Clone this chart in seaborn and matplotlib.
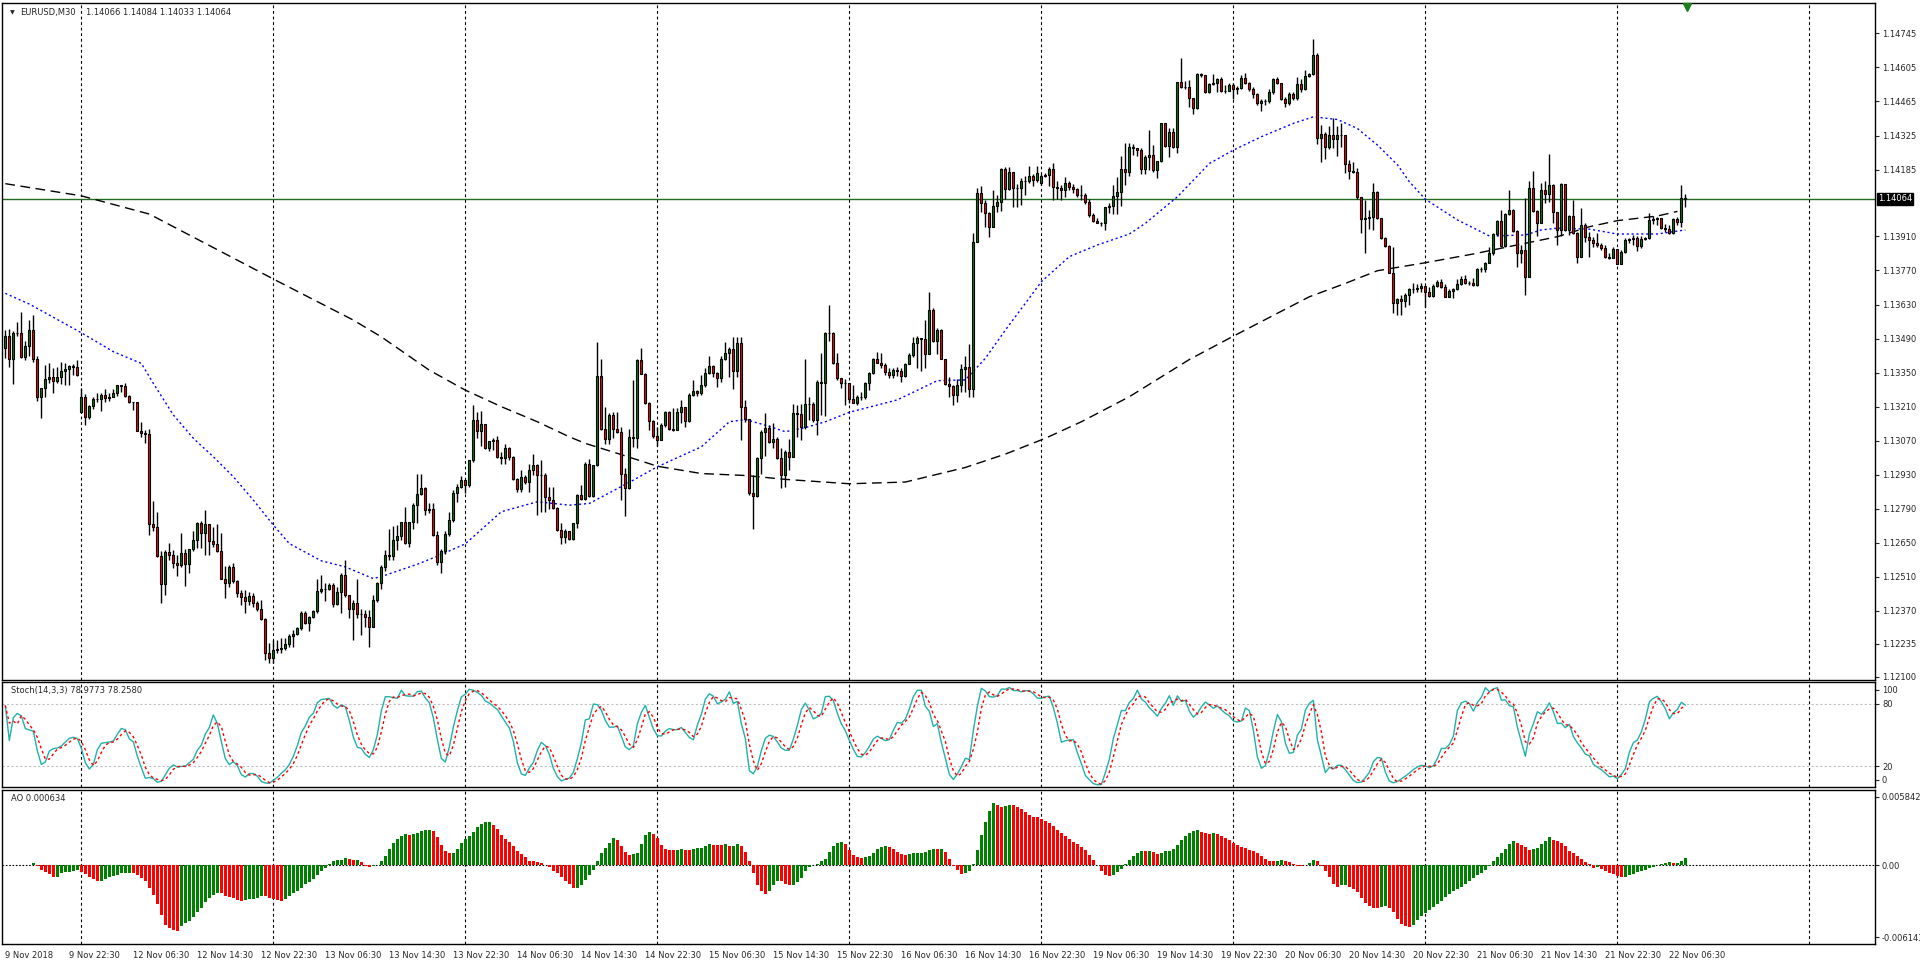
import numpy as np
import pandas as pd
import seaborn as sns
import matplotlib.pyplot as plt
from matplotlib import transforms

# EURUSD M30 bars, 9 Nov 2018 14:30 -> 22 Nov 2018 08:30
# prices kept as pips above 1.1000 to keep the lists short
close_pips = [
    350.0, 340.5, 351.5, 351.5, 341.5, 346.0, 352.5, 340.5, 324.8, 328.5,
    332.2, 333.2, 331.5, 333.0, 335.8, 336.5, 337.7, 337.2, 334.2, 325.1,
    316.6, 321.3, 324.0, 324.3, 325.8, 324.5, 324.8, 326.5, 329.8, 329.3,
    325.5, 322.8, 322.8, 311.1, 310.0, 309.8, 272.7, 271.6, 259.6, 248.1,
    261.2, 260.1, 256.8, 255.7, 260.7, 256.3, 262.3, 266.2, 273.0, 269.2,
    272.7, 265.9, 264.5, 261.8, 250.3, 248.6, 254.9, 249.4, 244.5, 242.9,
    241.2, 243.0, 240.1, 237.9, 233.5, 219.6, 217.5, 220.9, 221.5, 221.6,
    223.3, 226.6, 227.4, 229.8, 236.2, 232.1, 234.6, 237.0, 245.3, 245.9,
    246.2, 247.6, 239.8, 244.8, 251.7, 243.5, 238.0, 240.4, 235.7, 235.9,
    234.6, 230.5, 241.4, 248.3, 255.1, 259.9, 259.5, 266.1, 267.8, 273.7,
    265.0, 273.7, 280.5, 285.0, 287.4, 278.7, 279.1, 268.2, 257.2, 261.7,
    268.6, 274.3, 285.3, 288.0, 290.8, 288.7, 299.0, 315.7, 311.1, 313.8,
    304.2, 307.0, 307.2, 300.1, 299.7, 303.8, 300.4, 291.1, 287.0, 291.9,
    290.1, 294.9, 297.0, 292.9, 293.1, 283.9, 282.6, 279.5, 270.2, 267.2,
    270.0, 266.4, 273.0, 284.6, 283.2, 297.6, 284.2, 297.0, 333.6, 312.0,
    307.9, 317.5, 312.0, 310.7, 293.5, 287.4, 308.6, 308.0, 340.1, 334.4,
    322.6, 315.2, 308.9, 307.2, 313.4, 318.8, 312.0, 311.4, 318.8, 321.0,
    315.2, 325.7, 327.5, 326.7, 329.9, 334.9, 337.7, 334.7, 332.6, 340.8,
    342.9, 344.9, 335.8, 347.0, 320.7, 316.1, 285.3, 284.2, 299.7, 310.7,
    312.4, 306.6, 307.9, 299.7, 292.8, 302.4, 300.4, 318.2, 318.0, 312.7,
    322.3, 322.3, 315.5, 331.2, 330.7, 351.1, 351.1, 339.1, 332.7, 330.9,
    330.6, 324.0, 322.7, 325.1, 324.8, 330.9, 334.7, 340.5, 339.1, 338.1,
    335.4, 334.0, 336.1, 335.8, 333.6, 338.6, 342.3, 347.1, 349.1, 348.7,
    342.7, 360.8, 348.2, 352.6, 340.5, 330.3, 329.5, 325.8, 329.9, 336.4,
    337.2, 328.1, 388.9, 408.8, 404.9, 400.8, 394.8, 403.5, 405.0, 418.6,
    410.4, 417.3, 410.8, 410.8, 414.0, 413.6, 415.9, 414.3, 417.0, 415.9,
    416.3, 418.6, 411.2, 410.8, 409.9, 412.9, 411.2, 410.4, 408.1, 408.1,
    405.3, 399.8, 397.5, 396.7, 396.4, 403.0, 403.5, 407.7, 409.4, 418.6,
    417.7, 427.6, 427.2, 426.5, 418.6, 423.8, 424.5, 418.3, 422.1, 437.5,
    428.2, 434.1, 427.6, 454.6, 452.3, 452.6, 447.8, 443.7, 457.8, 457.4,
    450.5, 453.7, 454.2, 455.6, 450.9, 451.0, 453.3, 451.5, 452.2, 456.0,
    454.0, 451.5, 449.6, 445.7, 446.8, 446.8, 450.5, 455.6, 454.2, 447.4,
    446.0, 449.6, 447.8, 453.7, 451.5, 457.0, 457.8, 465.6, 431.3, 433.1,
    427.6, 432.7, 430.9, 432.7, 432.7, 420.8, 418.0, 417.6, 407.1, 398.0,
    398.4, 398.8, 409.4, 398.4, 390.2, 387.0, 376.1, 363.5, 365.1, 364.6,
    366.9, 369.3, 369.3, 369.7, 370.6, 368.3, 366.5, 370.6, 372.4, 370.4,
    366.2, 368.7, 369.3, 371.5, 373.4, 372.0, 372.0, 371.0, 377.5, 377.5,
    380.2, 384.3, 392.0, 397.5, 387.1, 400.2, 401.9, 393.4, 384.1, 385.5,
    374.5, 410.8, 401.6, 396.7, 410.1, 408.5, 412.2, 401.2, 393.7, 412.6,
    393.7, 399.4, 392.3, 382.7, 395.7, 390.9, 389.6, 388.5, 387.5, 386.1,
    382.4, 382.0, 385.7, 379.7, 384.8, 389.6, 389.9, 390.3, 387.1, 389.8,
    390.3, 397.8, 398.1, 398.5, 394.4, 393.9, 392.3, 398.1, 397.1, 406.7, 406.4,
]
high_pips = [
    352.5, 353.0, 352.0, 356.0, 360.0, 348.0, 356.5, 358.5, 341.8, 328.5,
    338.1, 338.8, 336.8, 337.5, 339.5, 338.8, 338.2, 338.5, 340.2, 328.5,
    326.1, 321.6, 325.1, 326.5, 326.5, 328.1, 326.8, 328.1, 330.1, 330.0,
    330.6, 325.8, 323.1, 323.1, 314.8, 311.4, 311.7, 282.2, 277.8, 261.8,
    262.0, 265.1, 262.0, 259.9, 268.9, 262.3, 262.3, 270.0, 273.7, 274.1,
    278.5, 272.7, 271.6, 272.7, 268.9, 255.5, 255.9, 256.9, 249.7, 245.6,
    245.6, 244.9, 244.2, 241.2, 241.5, 233.9, 223.7, 225.0, 225.0, 225.7,
    225.7, 227.4, 229.1, 230.2, 237.0, 236.8, 234.8, 237.3, 250.3, 251.7,
    248.5, 248.5, 248.3, 246.9, 252.4, 257.9, 243.5, 241.5, 250.3, 238.0,
    237.3, 237.3, 243.5, 249.0, 255.8, 262.0, 270.9, 271.9, 272.3, 273.7,
    279.8, 273.7, 281.2, 293.5, 293.5, 287.8, 281.2, 281.5, 270.0, 262.3,
    270.0, 277.8, 286.7, 289.1, 292.4, 289.7, 299.0, 321.6, 318.9, 319.3,
    313.8, 307.0, 308.3, 308.9, 302.4, 305.6, 304.5, 300.7, 291.5, 294.9,
    292.9, 297.4, 301.5, 297.4, 299.0, 293.8, 288.0, 287.8, 279.8, 273.0,
    270.5, 270.0, 273.2, 285.0, 288.7, 298.3, 299.3, 297.0, 347.7, 340.8,
    321.0, 318.2, 318.9, 318.9, 312.7, 295.6, 312.0, 331.9, 340.8, 345.0,
    334.9, 323.0, 315.5, 312.7, 314.4, 319.3, 319.3, 320.3, 320.3, 323.7,
    321.0, 326.7, 331.9, 328.0, 334.0, 336.7, 341.8, 338.1, 335.3, 341.8,
    347.7, 345.4, 349.7, 349.7, 349.7, 323.7, 316.1, 292.8, 300.4, 311.4,
    318.2, 313.4, 314.1, 308.6, 303.8, 303.1, 307.9, 322.3, 321.6, 322.3,
    340.8, 325.0, 323.0, 331.9, 342.9, 351.8, 362.8, 351.8, 342.9, 332.6,
    332.2, 330.6, 329.9, 325.8, 327.2, 331.3, 335.4, 340.9, 343.6, 343.2,
    338.8, 336.8, 336.8, 337.5, 336.8, 339.1, 343.2, 349.8, 350.1, 349.1,
    356.7, 368.3, 361.5, 353.2, 352.8, 340.5, 333.4, 329.9, 332.2, 338.6,
    341.9, 346.8, 392.3, 410.8, 411.8, 406.0, 401.2, 410.1, 408.1, 419.0,
    419.7, 419.7, 417.7, 412.6, 414.9, 415.9, 420.0, 416.7, 420.0, 416.7,
    417.0, 419.4, 421.1, 413.6, 412.2, 415.6, 413.6, 412.6, 410.8, 412.2,
    408.8, 406.3, 400.8, 398.5, 397.0, 403.3, 404.9, 412.2, 415.6, 424.1,
    429.3, 429.5, 429.0, 427.2, 427.2, 424.5, 434.7, 428.6, 422.1, 437.8,
    437.5, 435.4, 435.4, 454.6, 464.2, 455.0, 455.3, 447.8, 458.1, 458.1,
    457.4, 454.0, 457.8, 456.0, 456.7, 453.3, 454.0, 454.2, 453.0, 457.4,
    458.1, 454.6, 452.6, 449.8, 447.4, 447.4, 451.5, 456.0, 456.4, 454.2,
    448.5, 450.5, 450.5, 456.7, 455.6, 459.4, 458.1, 472.0, 466.3, 436.8,
    434.1, 436.4, 439.6, 436.4, 437.5, 432.0, 422.4, 421.7, 419.0, 407.4,
    406.0, 402.0, 412.8, 409.8, 398.4, 390.9, 387.5, 386.8, 365.6, 367.0,
    367.6, 369.7, 371.7, 371.5, 371.7, 369.7, 370.4, 371.5, 373.1, 373.4,
    371.5, 369.3, 369.7, 373.4, 374.7, 375.2, 372.8, 373.8, 377.9, 378.6,
    380.6, 386.8, 392.6, 397.8, 401.9, 400.5, 410.1, 402.2, 393.7, 387.5,
    406.7, 414.0, 418.1, 401.9, 412.9, 414.0, 424.9, 412.6, 401.2, 412.9,
    412.2, 399.8, 406.0, 393.0, 402.6, 396.4, 393.0, 390.6, 392.6, 388.2,
    387.5, 384.3, 386.5, 385.5, 385.5, 390.2, 390.2, 391.6, 391.2, 391.2,
    390.9, 400.8, 399.4, 398.9, 398.5, 396.1, 395.7, 398.5, 398.9, 412.2, 408.4,
]
low_pips = [
    340.9, 337.5, 330.5, 350.0, 341.0, 340.0, 342.0, 339.5, 323.5, 316.2,
    325.1, 330.6, 326.8, 330.6, 330.3, 330.0, 330.0, 334.0, 333.8, 318.3,
    313.5, 316.0, 319.9, 323.0, 319.4, 323.0, 323.5, 324.8, 325.4, 327.2,
    325.1, 322.4, 319.6, 310.9, 308.7, 305.9, 268.2, 270.0, 259.0, 240.4,
    243.5, 257.9, 254.5, 251.4, 254.9, 247.2, 252.7, 261.8, 262.7, 262.7,
    260.0, 260.0, 263.4, 261.4, 250.0, 242.2, 246.7, 248.3, 242.9, 239.4,
    236.0, 239.4, 238.7, 237.1, 233.3, 216.8, 215.4, 215.4, 219.5, 219.5,
    221.1, 222.0, 222.0, 227.0, 229.1, 231.8, 228.8, 233.9, 236.2, 244.2,
    241.1, 245.6, 238.7, 239.4, 236.2, 242.8, 233.9, 225.2, 233.9, 227.0,
    230.2, 222.0, 230.5, 240.7, 246.2, 253.5, 257.9, 257.9, 262.0, 266.1,
    264.7, 263.4, 270.9, 273.0, 284.6, 276.4, 277.1, 267.8, 255.8, 252.4,
    260.6, 267.8, 273.7, 281.9, 287.4, 285.3, 288.0, 298.3, 308.3, 304.8,
    303.4, 302.9, 303.1, 299.7, 297.6, 297.6, 299.0, 290.8, 286.0, 286.0,
    289.4, 286.0, 292.9, 276.4, 277.8, 277.8, 279.1, 279.1, 270.0, 264.7,
    265.0, 266.1, 266.1, 271.3, 282.8, 282.8, 283.9, 283.9, 296.6, 311.6,
    305.6, 305.6, 308.3, 310.3, 282.8, 276.0, 287.0, 304.5, 304.2, 334.4,
    322.3, 311.4, 308.3, 304.8, 308.3, 312.7, 311.6, 311.1, 311.6, 314.1,
    312.7, 314.8, 325.4, 325.5, 325.7, 329.2, 334.4, 333.3, 329.2, 331.2,
    340.1, 333.3, 328.1, 333.3, 307.2, 314.8, 284.6, 270.5, 283.9, 293.5,
    300.7, 306.1, 303.8, 299.3, 287.4, 288.0, 294.9, 300.1, 308.6, 307.2,
    312.0, 315.5, 314.8, 309.3, 317.5, 317.2, 348.0, 338.4, 332.0, 328.6,
    321.7, 322.4, 322.4, 321.7, 323.8, 324.0, 327.9, 334.5, 339.1, 336.8,
    334.0, 332.7, 332.7, 333.6, 331.3, 333.4, 338.6, 341.3, 336.8, 335.8,
    336.8, 342.7, 347.8, 342.7, 340.5, 329.9, 325.1, 321.7, 323.1, 327.2,
    327.2, 324.9, 324.9, 388.9, 401.2, 395.0, 390.9, 394.8, 401.2, 401.6,
    406.3, 410.1, 403.3, 403.3, 404.0, 408.1, 412.9, 411.8, 413.2, 412.0,
    415.6, 411.8, 406.0, 406.6, 406.0, 407.4, 409.9, 409.0, 407.4, 406.0,
    404.4, 399.2, 397.1, 396.4, 395.5, 393.7, 400.8, 400.3, 400.3, 403.5,
    412.1, 416.0, 424.5, 424.0, 416.6, 416.6, 418.3, 417.6, 414.9, 421.7,
    427.9, 423.5, 427.2, 425.2, 451.9, 451.5, 444.4, 441.3, 443.3, 456.7,
    450.1, 450.1, 453.3, 450.5, 450.5, 449.8, 450.9, 447.4, 449.5, 451.5,
    453.7, 450.9, 447.8, 445.0, 442.7, 445.0, 446.0, 449.6, 453.7, 447.1,
    444.1, 445.0, 447.1, 447.1, 450.5, 451.2, 456.7, 457.4, 429.0, 421.7,
    422.7, 426.8, 427.2, 424.1, 427.6, 417.2, 414.5, 416.9, 406.6, 392.5,
    384.0, 394.0, 393.6, 398.0, 389.8, 386.8, 375.8, 359.5, 358.7, 358.7,
    362.1, 362.8, 367.9, 368.3, 368.3, 362.1, 366.2, 366.2, 370.4, 369.7,
    366.0, 366.0, 365.6, 369.0, 371.0, 371.5, 371.0, 370.6, 370.6, 376.5,
    376.5, 380.0, 383.4, 391.2, 386.8, 386.8, 400.0, 393.0, 378.6, 380.0,
    367.0, 374.2, 401.2, 391.2, 396.4, 404.9, 405.3, 396.4, 387.5, 391.2,
    393.4, 391.6, 392.0, 380.0, 382.4, 388.9, 382.7, 386.5, 386.8, 385.5,
    382.0, 381.6, 382.0, 379.7, 379.7, 384.1, 388.5, 387.5, 385.2, 386.1,
    389.6, 389.8, 396.2, 395.7, 393.9, 393.0, 392.0, 392.0, 395.7, 395.0, 403.3,
]
first_open_pips = 345.0
gap_open_pips = {19: 319.0, 259: 412.9}  # monday opens after weekend gaps

# moving averages (bar index, pips)
ma_fast_bars = [0, 6, 19, 27, 34, 37, 42, 47, 52, 57, 62, 67, 71, 79, 85, 92, 95, 103,
                108, 115, 124, 133, 141, 146, 157, 163, 174, 181, 185, 190, 195, 200,
                205, 211, 223, 233, 240, 245, 250, 255, 259, 266, 273, 281, 285, 293,
                301, 307, 314, 322, 327, 333, 338, 343, 348, 351, 355, 363, 371, 380,
                384, 388, 396, 403, 413, 420]
ma_fast_pips = [367.6, 363.2, 351.4, 343.6, 338.8, 330.6, 317.6, 308.0, 300.4, 292.2,
                282.6, 272.3, 264.7, 257.6, 255.1, 250.3, 251.7, 256.2, 259.5, 264.6,
                277.8, 281.9, 280.5, 281.2, 290.8, 296.3, 304.5, 314.8, 315.7, 313.4,
                310.7, 312.4, 314.8, 318.7, 323.8, 331.7, 332.0, 340.9, 352.5, 363.5,
                372.4, 382.7, 387.5, 392.0, 396.4, 407.3, 421.0, 426.5, 432.0, 437.5,
                440.2, 439.1, 435.4, 428.6, 420.5, 413.5, 406.3, 397.8, 391.2, 391.6,
                393.7, 394.4, 394.0, 392.0, 392.0, 393.7]
ma_slow_bars = [0, 19, 36, 67, 87, 94, 106, 115, 124, 133, 141, 145, 153, 163, 174, 185,
                195, 211, 225, 240, 250, 260, 269, 281, 296, 307, 318, 326, 335, 343,
                355, 367, 380, 388, 396, 403, 413, 418]
ma_slow_pips = [412.7, 407.7, 400.2, 373.5, 356.6, 349.7, 336.0, 327.8, 321.0, 314.8,
                308.6, 305.9, 301.8, 296.5, 293.5, 292.7, 291.1, 289.3, 290.0, 296.0,
                301.5, 308.0, 314.8, 325.1, 340.4, 350.0, 359.4, 366.2, 371.7, 376.9,
                380.2, 383.8, 388.2, 390.9, 395.0, 397.5, 399.4, 401.3]

time_labels = ['9 Nov 2018', '9 Nov 22:30', '12 Nov 06:30', '12 Nov 14:30', '12 Nov 22:30',
               '13 Nov 06:30', '13 Nov 14:30', '13 Nov 22:30', '14 Nov 06:30', '14 Nov 14:30',
               '14 Nov 22:30', '15 Nov 06:30', '15 Nov 14:30', '15 Nov 22:30', '16 Nov 06:30',
               '16 Nov 14:30', '16 Nov 22:30', '19 Nov 06:30', '19 Nov 14:30', '19 Nov 22:30',
               '20 Nov 06:30', '20 Nov 14:30', '20 Nov 22:30', '21 Nov 06:30', '21 Nov 14:30',
               '21 Nov 22:30', '22 Nov 06:30']
price_ticks = [1.14745, 1.14605, 1.14465, 1.14325, 1.14185, 1.13910, 1.13770, 1.13630,
               1.13490, 1.13350, 1.13210, 1.13070, 1.12930, 1.12790, 1.12650, 1.12510,
               1.12370, 1.12235, 1.12100]
bid_price = 1.14064

sns.set_style("white")
plt.rcParams['font.family'] = ['DejaVu Sans']
FS = 6

# build OHLC frame
df = pd.DataFrame({'close': close_pips, 'high': high_pips, 'low': low_pips})
df['open'] = df['close'].shift(1)
df.loc[0, 'open'] = first_open_pips
for k, v in gap_open_pips.items():
    df.loc[k, 'open'] = v
for c in ['open', 'high', 'low', 'close']:
    df[c] = 1.1 + df[c] / 1e4
df['high'] = df[['high', 'open', 'close']].max(axis=1)
df['low'] = df[['low', 'open', 'close']].min(axis=1)
df['bar'] = np.arange(len(df))

# indicators (Awesome Oscillator, Stochastic 14,3,3)
median = (df['high'] + df['low']) / 2
df['ao'] = median.rolling(5, min_periods=1).mean() - median.rolling(34, min_periods=1).mean()
ll = df['low'].rolling(14, min_periods=1).min()
hh = df['high'].rolling(14, min_periods=1).max()
df['k'] = 100 * (df['close'] - ll).rolling(3, min_periods=1).sum() / (hh - ll).rolling(3, min_periods=1).sum()
df['d'] = df['k'].rolling(3, min_periods=1).mean()

fig = plt.figure(figsize=(19.2, 9.67), dpi=100)
L, W = 2 / 1920, 1873 / 1920
ax_p = fig.add_axes([L, 1 - 680 / 967, W, 677 / 967])
ax_s = fig.add_axes([L, 1 - 787 / 967, W, 105 / 967], sharex=ax_p)
ax_a = fig.add_axes([L, 1 - 944 / 967, W, 154 / 967], sharex=ax_p)

day_starts = list(range(19, 460, 48))
for ax in (ax_p, ax_s, ax_a):
    for g in day_starts:
        ax.axvline(g, color='black', lw=0.8, ls=(0, (2.5, 2.5)), zorder=1)
    for s in ax.spines.values():
        s.set_color('black')
        s.set_linewidth(1)

# price panel
ax_p.axhline(bid_price, color='#1f6b1f', lw=1, zorder=2)
sns.lineplot(x=ma_slow_bars, y=1.1 + np.array(ma_slow_pips) / 1e4, ax=ax_p,
             color='black', lw=1, linestyle=(0, (7, 4)), zorder=2)
sns.lineplot(x=ma_fast_bars, y=1.1 + np.array(ma_fast_pips) / 1e4, ax=ax_p,
             color='blue', lw=1, linestyle=(0, (1.5, 2)), zorder=2)
up = df['close'] >= df['open']
ax_p.vlines(df['bar'], df['low'], df['high'], color='black', lw=1.0, zorder=3)
ax_p.bar(df['bar'], df['close'] - df['open'], bottom=df['open'], width=0.55,
         color=np.where(up, '#008000', '#ff0000'), edgecolor='black', linewidth=0.8, zorder=4)

ax_p.set_xlim(-0.83, 467.4)
ax_p.set_ylim(1.12086, 1.14870)
ax_p.yaxis.tick_right()
ax_p.set_yticks(price_ticks)
ax_p.set_yticklabels([f"{v:.5f}" for v in price_ticks])
ax_p.tick_params(axis='y', labelsize=FS, length=3, width=0.8, pad=2, direction='out')
ax_p.tick_params(axis='x', bottom=False, labelbottom=False)
ax_p.set_xlabel('')
ax_p.set_ylabel('')
blend = transforms.blended_transform_factory(ax_p.transAxes, ax_p.transData)
ax_p.text(1.0015, bid_price, f"{bid_price:.5f}", transform=blend, ha='left', va='center',
          fontsize=FS, color='white',
          bbox=dict(boxstyle='square,pad=0.15', facecolor='black', edgecolor='black'))
ax_p.plot([420.4], [1.14852], marker='v', ms=6, color='#1c7c1c', clip_on=False, zorder=6)

# stochastic panel
for lvl in (20, 80):
    ax_s.axhline(lvl, color='#c0c0c0', lw=0.8, ls=(0, (2, 2)), zorder=1)
sns.lineplot(data=df, x='bar', y='k', ax=ax_s, color='#20b2aa', lw=1, zorder=3)
sns.lineplot(data=df, x='bar', y='d', ax=ax_s, color='red', lw=1, linestyle=(0, (2, 2)), zorder=3)
ax_s.set_ylim(-0.3, 101.2)
ax_s.yaxis.tick_right()
ax_s.set_yticks([6.7, 20, 80, 93.9])
ax_s.set_yticklabels(['0', '20', '80', '100'])
ax_s.tick_params(axis='y', labelsize=FS, length=3, width=0.8, pad=2)
ax_s.tick_params(axis='x', bottom=False, labelbottom=False)
ax_s.set_xlabel('')
ax_s.set_ylabel('')
ax_s.text(9 / 1873, (787 - 690.7) / 105, 'Stoch(14,3,3) 78.9773 78.2580', transform=ax_s.transAxes,
          fontsize=FS, va='center', ha='left')

# awesome oscillator panel
ao = df['ao'].to_numpy()
ao_col = ['#008000'] + ['#008000' if ao[i] > ao[i - 1] else '#ff0000' for i in range(1, len(ao))]
ax_a.axhline(0, color='black', lw=0.8, ls=(0, (1.5, 1.5)), zorder=1)
ax_a.bar(df['bar'], df['ao'], width=0.7, color=ao_col, linewidth=0, zorder=3)
ax_a.set_ylim(-0.00672, 0.00644)
ax_a.yaxis.tick_right()
ax_a.set_yticks([0.005842, 0.0, -0.006143])
ax_a.set_yticklabels(['0.005842', '0.00', '-0.006143'])
ax_a.tick_params(axis='y', labelsize=FS, length=3, width=0.8, pad=2)
ax_a.set_xticks(list(range(0, 16 * len(time_labels), 16)))
ax_a.set_xticklabels(time_labels)
for lbl in ax_a.get_xticklabels():
    lbl.set_ha('left')
ax_a.tick_params(axis='x', labelsize=FS, length=3, width=0.8, pad=2, direction='out')
ax_a.set_xlabel('')
ax_a.set_ylabel('')
ax_a.text(9 / 1873, (944 - 798.7) / 154, 'AO 0.000634', transform=ax_a.transAxes,
          fontsize=FS, va='center', ha='left')

# header
fig.text(10 / 1920, 1 - 12.7 / 967, '\u25bc', fontsize=4.5, va='center', ha='left')
fig.text(20.5 / 1920, 1 - 12.7 / 967, 'EURUSD,M30', fontsize=FS, va='center', ha='left')
fig.text(86 / 1920, 1 - 12.7 / 967, '1.14066 1.14084 1.14033 1.14064', fontsize=FS,
         va='center', ha='left')

fig.savefig('out.png', dpi=100)
